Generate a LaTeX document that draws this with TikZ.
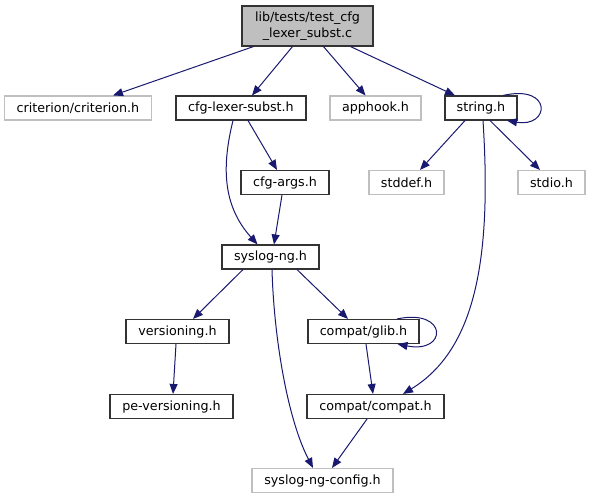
\documentclass[tikz,border=0pt]{standalone}
\usepackage{fontspec}
\setmainfont{DejaVu Sans}
\usetikzlibrary{arrows.meta}
\definecolor{edgeblue}{RGB}{25,25,112}
\definecolor{graybd}{RGB}{191,191,191}
\definecolor{rootfill}{RGB}{191,191,191}
\tikzset{
  nd/.style={draw=black!80, line width=1.1pt, inner sep=0pt, minimum height=24pt, font=\fontsize{12.7}{15}\selectfont, fill=white},
  gnd/.style={nd, draw=graybd},
  edge/.style={draw=edgeblue, line width=1pt, -{Triangle[length=10pt,width=8pt]}},
}
\begin{document}
\begin{tikzpicture}[x=1pt,y=-1pt]
\useasboundingbox (0,0) rectangle (591,500);
\node[nd, fill=rootfill, minimum width=131pt, minimum height=40pt, align=center, font=\fontsize{12.7}{15.5}\selectfont] (root) at (307.5,26) {lib/tests/test\_cfg\\\_lexer\_subst.c};
\node[gnd, minimum width=147pt] (crit) at (78,108) {criterion/criterion.h};
\node[nd, minimum width=130pt] (cls) at (241,108) {cfg-lexer-subst.h};
\node[gnd, minimum width=91pt] (apphook) at (375.5,108) {apphook.h};
\node[nd, minimum width=72pt] (string) at (481,108) {string.h};
\node[nd, minimum width=88pt] (cfgargs) at (285,182.5) {cfg-args.h};
\node[gnd, minimum width=75pt] (stddef) at (406.5,182.5) {stddef.h};
\node[gnd, minimum width=67pt] (stdio) at (551.5,182.5) {stdio.h};
\node[nd, minimum width=97pt] (syslogng) at (270.5,257) {syslog-ng.h};
\node[nd, minimum width=103pt] (versioning) at (177.5,331.5) {versioning.h};
\node[nd, minimum width=111pt] (glib) at (363.5,331.5) {compat/glib.h};
\node[nd, minimum width=123pt] (pever) at (171.5,406.5) {pe-versioning.h};
\node[nd, minimum width=137pt] (compat) at (375.5,406.5) {compat/compat.h};
\node[gnd, minimum width=141pt] (config) at (322.5,480.5) {syslog-ng-config.h};

\draw[edge] ([xshift=-54]root.south) -- ([xshift=35]crit.north);
\draw[edge] ([xshift=-15]root.south) -- ([xshift=11]cls.north);
\draw[edge] ([xshift=16]root.south) -- ([xshift=-10]apphook.north);
\draw[edge] ([xshift=43]root.south) -- ([xshift=-26]string.north);
\draw[edge] ([xshift=22]string.north) .. controls (553,84) and (550,128) .. ([xshift=26]string.south);
\draw[edge] ([xshift=7]cls.south) -- ([xshift=-8]cfgargs.north);
\draw[edge] ([xshift=-8]cls.south) .. controls (222,165) and (222,205) .. ([xshift=-13]syslogng.north);
\draw[edge] ([xshift=-3]cfgargs.south) -- ([xshift=3.5]syslogng.north);
\draw[edge] ([xshift=-16]string.south) -- ([xshift=13.5]stddef.north);
\draw[edge] ([xshift=9]string.south) -- ([xshift=-11.5]stdio.north);
\draw[edge] ([xshift=2]string.south) .. controls (492,260) and (475,350) .. ([xshift=27.5]compat.north);
\draw[edge] ([xshift=-27.5]syslogng.south) -- ([xshift=15.5]versioning.north);
\draw[edge] ([xshift=26.5]syslogng.south) -- ([xshift=-15.5]glib.north);
\draw[edge] ([xshift=1.5]syslogng.south) .. controls (274,340) and (288,420) .. ([xshift=-9.5]config.north);
\draw[edge] ([xshift=33.5]glib.north) .. controls (448,308) and (448,354) .. ([xshift=34]glib.south);
\draw[edge] ([xshift=-1.5]versioning.south) -- ([xshift=1.5]pever.north);
\draw[edge] ([xshift=2.5]glib.south) -- ([xshift=-2.5]compat.north);
\draw[edge] ([xshift=-8.5]compat.south) -- ([xshift=9.5]config.north);
\end{tikzpicture}
\end{document}
